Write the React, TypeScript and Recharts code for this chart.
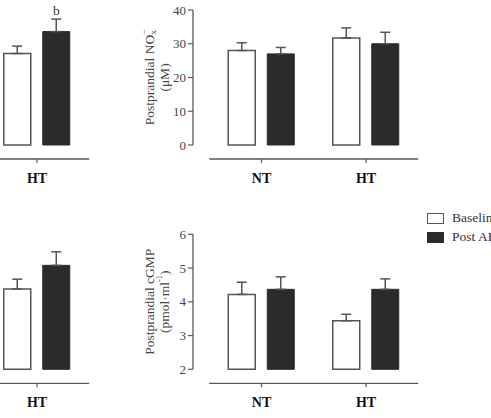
import React from "react";
import { BarChart, Bar, XAxis, YAxis, ErrorBar, LabelList, Legend } from "recharts";

// ---------- data ----------
const groups = ["NT", "HT"];
const seriesNames = ["Baseline", "Post AET"];

// upper-right panel: postprandial NOx- (µM)
const noxBaseline = [28.0, 31.7];
const noxBaselineSem = [2.3, 3.0];
const noxPost = [27.0, 30.0];
const noxPostSem = [1.9, 3.4];
const noxTicks = [0, 10, 20, 30, 40];

// upper-left panel (cut by the figure edge, only HT visible)
const leftTopBaseline = [null, 27.1];
const leftTopBaselineSem = [null, 2.2];
const leftTopPost = [null, 33.6];
const leftTopPostSem = [null, 3.7];
const leftTopPostLetters = ["", "b"];

// lower-right panel: postprandial cGMP (pmol·ml-1)
const cgmpBaseline = [4.22, 3.44];
const cgmpBaselineSem = [0.36, 0.19];
const cgmpPost = [4.37, 4.37];
const cgmpPostSem = [0.37, 0.31];
const cgmpTicks = [2, 3, 4, 5, 6];

// lower-left panel (cut by the figure edge, only HT visible)
const leftBottomBaseline = [null, 4.38];
const leftBottomBaselineSem = [null, 0.29];
const leftBottomPost = [null, 5.08];
const leftBottomPostSem = [null, 0.4];
const noLetters = ["", ""];

// ---------- styling ----------
const FONT = "'Liberation Serif', 'Times New Roman', serif";
const AXIS = "#5a5a5a";
const DARK = "#2b2b2b";
const YAXIS_W = 63;
const PLOT_H = 149;
const VISIBLE_H = 135;
const PAD_LEFT = 16.25;
const BAND_SPAN = 209;
const CHART_W = 361;
const XAXIS_H = 30;

type Row = {
  group: string;
  base: number | null;
  baseSem: number | null;
  post: number | null;
  postSem: number | null;
  letter: string;
};

function buildRows(
  base: (number | null)[],
  baseSem: (number | null)[],
  post: (number | null)[],
  postSem: (number | null)[],
  letters: string[]
): Row[] {
  return groups.map((g, i) => ({
    group: g,
    base: base[i],
    baseSem: baseSem[i],
    post: post[i],
    postSem: postSem[i],
    letter: letters[i],
  }));
}

const pick = (d: any) => (d && d.payload && d.payload.group ? d.payload : d);

function YTitle(props: any) {
  const { x1, x2, cy, kind } = props;
  const common = {
    textAnchor: "middle" as const,
    dominantBaseline: "central" as const,
    fill: "#444",
    fontSize: 13.5,
    fontFamily: FONT,
  };
  if (kind === "nox") {
    return (
      <g>
        <text transform={`translate(${x1},${cy}) rotate(-90)`} {...common}>
          Postprandial NO
          <tspan dy={-5} fontSize={9}>
            −
          </tspan>
          <tspan dx={-5} dy={9} fontSize={9}>
            x
          </tspan>
        </text>
        <text transform={`translate(${x2},${cy}) rotate(-90)`} {...common}>
          (μM)
        </text>
      </g>
    );
  }
  return (
    <g>
      <text transform={`translate(${x1},${cy}) rotate(-90)`} {...common}>
        Postprandial cGMP
      </text>
      <text transform={`translate(${x2},${cy}) rotate(-90)`} {...common}>
        (pmol·ml
        <tspan dy={-5} fontSize={8.5}>
          -1
        </tspan>
        <tspan dy={5}>)</tspan>
      </text>
    </g>
  );
}

function LegendBox() {
  const colors = ["#ffffff", DARK];
  return (
    <div style={{ fontFamily: FONT }}>
      {seriesNames.map((n, i) => (
        <div
          key={n}
          style={{ display: "flex", alignItems: "center", height: 19, whiteSpace: "nowrap" }}
        >
          <div
            style={{
              width: 15,
              height: 9,
              background: colors[i],
              border: `1px solid ${i === 0 ? "#555" : DARK}`,
            }}
          />
          <span style={{ marginLeft: 8, fontSize: 13.5, color: "#333" }}>{n}</span>
        </div>
      ))}
    </div>
  );
}

type PanelProps = {
  left: number;
  top: number;
  height: number;
  marginTop: number;
  data: Row[];
  ticks: number[];
  title?: string;
  legend?: boolean;
};

function Panel({ left, top, height, marginTop, data, ticks, title, legend }: PanelProps) {
  const floor = ticks[0];
  const ceil = ticks[ticks.length - 1];
  const pxPerUnit = VISIBLE_H / (ceil - floor);
  const dMin = floor - (PLOT_H - VISIBLE_H) / pxPerUnit;
  const plotW = PAD_LEFT + BAND_SPAN;
  const marginRight = CHART_W - YAXIS_W - plotW;
  const marginBottom = height - marginTop - PLOT_H - XAXIS_H;

  const letterContent = (p: any) => {
    const vb = p && p.viewBox && p.viewBox.width != null ? p.viewBox : p;
    const x = Number(vb.x);
    const y = Number(vb.y);
    const w = Number(vb.width);
    const h = Number(vb.height);
    const value = p.value;
    if (!value) return null;
    let row: Row | undefined = typeof p.index === "number" ? data[p.index] : undefined;
    if (!row || row.letter !== value) row = data.find((r) => r.letter === value);
    if (!row || row.post == null || row.postSem == null) return null;
    const topY = Math.min(y, y + h);
    const scale = Math.abs(h) / (row.post - floor);
    const capY = topY - row.postSem * scale;
    return (
      <text
        x={x + w / 2}
        y={capY - 4}
        textAnchor="middle"
        fill="#333"
        fontSize={13.5}
        fontFamily={FONT}
      >
        {value}
      </text>
    );
  };

  // hide any tick text that would land outside the visible figure (cropped panels)
  const XTick = (p: any) => {
    const { x, y, payload } = p;
    if (left + Number(x) < 10) return null;
    return (
      <text
        x={x}
        y={Number(y) + 4}
        dy="0.71em"
        textAnchor="middle"
        fill="#111"
        fontSize={14}
        fontWeight="bold"
        fontFamily={FONT}
      >
        {payload.value}
      </text>
    );
  };
  const YTick = (p: any) => {
    const { x, y, payload } = p;
    if (left + Number(x) < 10) return null;
    return (
      <text
        x={x}
        y={y}
        dy="0.35em"
        textAnchor="end"
        fill="#444"
        fontSize={13}
        fontFamily={FONT}
      >
        {payload.value}
      </text>
    );
  };

  return (
    <div style={{ position: "absolute", left, top }}>
      <BarChart
        width={CHART_W}
        height={height}
        data={data}
        barSize={27}
        barGap={12}
        margin={{ top: marginTop, right: marginRight, bottom: marginBottom, left: 0 }}
      >
        <XAxis
          dataKey="group"
          height={XAXIS_H}
          padding={{ left: PAD_LEFT, right: 0 }}
          tickSize={4}
          tickMargin={6}
          axisLine={{ stroke: AXIS, strokeWidth: 1.3, strokeDasharray: `0 ${PAD_LEFT} ${BAND_SPAN} 1000` }}
          tickLine={{ stroke: AXIS, strokeWidth: 1.2 }}
          tick={<XTick />}
        />
        <YAxis
          type="number"
          domain={[dMin, ceil]}
          ticks={ticks}
          allowDataOverflow
          interval={0}
          width={YAXIS_W}
          tickSize={5}
          tickMargin={2}
          axisLine={{ stroke: AXIS, strokeWidth: 1.3, strokeDasharray: `${VISIBLE_H} 1000` }}
          tickLine={{ stroke: AXIS, strokeWidth: 1.2 }}
          tick={<YTick />}
          label={
            title ? (
              <YTitle kind={title} x1={19} x2={34} cy={marginTop + VISIBLE_H / 2} />
            ) : undefined
          }
        />
        <Bar
          name={seriesNames[0]}
          dataKey={(d: Row) => (d.base == null ? null : [floor, d.base])}
          fill="#ffffff"
          stroke="#555"
          strokeWidth={1.5}
          isAnimationActive={false}
        >
          <ErrorBar
            direction="y"
            dataKey={(d: any) => {
              const r = pick(d);
              return r.baseSem == null ? null : [0, r.baseSem];
            }}
            width={5}
            stroke="#555"
            strokeWidth={1.5}
          />
        </Bar>
        <Bar
          name={seriesNames[1]}
          dataKey={(d: Row) => (d.post == null ? null : [floor, d.post])}
          fill={DARK}
          stroke={DARK}
          strokeWidth={1}
          isAnimationActive={false}
        >
          <ErrorBar
            direction="y"
            dataKey={(d: any) => {
              const r = pick(d);
              return r.postSem == null ? null : [0, r.postSem];
            }}
            width={5}
            stroke="#555"
            strokeWidth={1.5}
          />
          <LabelList dataKey="letter" content={letterContent} />
        </Bar>
        {legend ? (
          <Legend
            layout="horizontal"
            verticalAlign="middle"
            align="center"
            wrapperStyle={{ position: "absolute", left: 297, top: 8.5, width: 200, height: 38 }}
            content={() => <LegendBox />}
          />
        ) : null}
      </BarChart>
    </div>
  );
}

const noxRows = buildRows(noxBaseline, noxBaselineSem, noxPost, noxPostSem, noLetters);
const leftTopRows = buildRows(leftTopBaseline, leftTopBaselineSem, leftTopPost, leftTopPostSem, leftTopPostLetters);
const cgmpRows = buildRows(cgmpBaseline, cgmpBaselineSem, cgmpPost, cgmpPostSem, noLetters);
const leftBottomRows = buildRows(leftBottomBaseline, leftBottomBaselineSem, leftBottomPost, leftBottomPostSem, noLetters);

const SHIFT = 329.5;

export default function App() {
  return (
    <div
      style={{
        position: "absolute",
        left: 0,
        top: 0,
        width: 491,
        height: 418,
        overflow: "hidden",
        background: "#ffffff",
        fontFamily: FONT,
      }}
    >
      <Panel left={130 - SHIFT} top={0} height={200} marginTop={10} data={leftTopRows} ticks={noxTicks} />
      <Panel left={130} top={0} height={200} marginTop={10} data={noxRows} ticks={noxTicks} title="nox" />
      <Panel left={130 - SHIFT} top={200} height={218} marginTop={34.3} data={leftBottomRows} ticks={cgmpTicks} />
      <Panel left={130} top={200} height={218} marginTop={34.3} data={cgmpRows} ticks={cgmpTicks} title="cgmp" legend />
    </div>
  );
}
